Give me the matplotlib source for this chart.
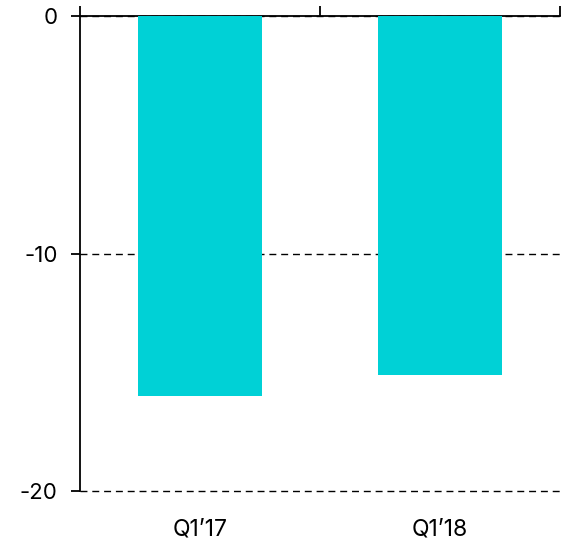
import matplotlib
matplotlib.use("Agg")
import matplotlib.pyplot as plt

categories = ["Q1\u201917", "Q1\u201918"]
values = [-16.0, -15.1]
yticks = [0, -10, -20]

plt.rcParams['font.family'] = ['Inter', 'DejaVu Sans']

fig = plt.figure(figsize=(5.69, 5.46), dpi=100)
ax = fig.add_axes([80/569, 1-491/546, 480/569, 475/546])

x = list(range(len(categories)))
ax.bar(x, values, width=0.52, color='#00D1D6', zorder=3)

ax.set_xlim(-0.5, len(categories) - 0.5)
ax.set_ylim(-20, 0)
ax.set_yticks(yticks)
ax.set_yticklabels([str(t) for t in yticks])
ax.set_xticks(x)
ax.set_xticklabels(categories)
ax.set_xticks([i - 0.5 for i in range(len(categories) + 1)], minor=True)

ax.spines['bottom'].set_visible(False)
ax.spines['right'].set_visible(False)
ax.spines['top'].set_linewidth(1.3)
ax.spines['left'].set_linewidth(1.3)

ax.tick_params(axis='x', which='major', length=0, pad=19.5, labelsize=16.5,
               bottom=True, top=False)
ax.tick_params(axis='x', which='minor', length=7, width=1.3, direction='out',
               top=True, bottom=False)
ax.tick_params(axis='y', length=6.5, width=1.3, pad=9.5, labelsize=16)

ax.yaxis.grid(True, linestyle=(0, (5, 3.5)), color='black', linewidth=1.0, zorder=0)
ax.set_axisbelow(True)
for gl in ax.get_ygridlines():
    gl.set_clip_on(False)

fig.savefig("out.png", dpi=100)
